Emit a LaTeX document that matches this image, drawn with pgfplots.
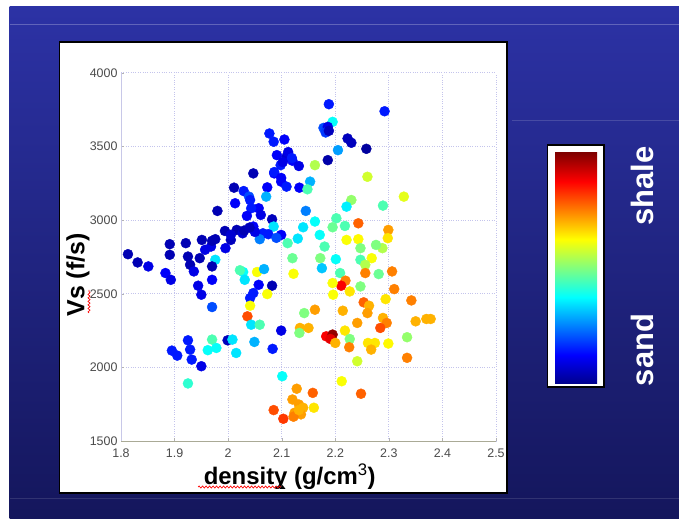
\documentclass[border=0pt]{standalone}
\usepackage{pgfplots}
\pgfplotsset{compat=1.18}
\usepackage{fontspec}
\setmainfont{Liberation Sans}
\usetikzlibrary{decorations.pathmorphing}

\definecolor{bgtop}{RGB}{44,50,165}
\definecolor{bgmid}{RGB}{34,38,140}
\definecolor{bgbot}{RGB}{20,22,92}
\definecolor{gridc}{RGB}{196,196,236}
\definecolor{tickc}{RGB}{75,75,75}
\definecolor{xaxc}{RGB}{170,170,150}
\definecolor{yaxc}{RGB}{200,200,232}

\pgfdeclareverticalshading{jetbar}{100bp}{rgb(0bp)=(0,0,0.55); rgb(25bp)=(0,0,0.55); rgb(31.25bp)=(0,0,1); rgb(43.75bp)=(0,1,1); rgb(56.25bp)=(1,1,0); rgb(68.75bp)=(1,0,0); rgb(75bp)=(0.5,0,0); rgb(100bp)=(0.5,0,0)}

\pgfplotstableread{
d V c
2.188 3788 0.15
2.292 3740 0.15
2.195 3668 0.38
2.178 3627 0.20
2.186 3634 0.10
2.182 3596 0.18
2.188 3607 0.06
2.077 3589 0.15
2.085 3533 0.15
2.105 3548 0.12
2.223 3555 0.06
2.230 3526 0.06
2.258 3485 0.03
2.205 3476 0.28
2.091 3442 0.12
2.109 3431 0.08
2.120 3404 0.12
2.132 3368 0.10
2.186 3408 0.04
2.162 3374 0.55
2.098 3374 0.15
2.047 3318 0.05
2.086 3318 0.12
2.099 3262 0.12
2.109 3228 0.15
2.153 3262 0.30
2.260 3295 0.58
2.133 3221 0.12
2.148 3210 0.45
2.073 3223 0.12
2.011 3221 0.05
2.029 3198 0.15
2.039 3160 0.20
2.041 3137 0.15
2.328 3160 0.60
2.071 3160 0.30
2.230 3137 0.52
2.221 3092 0.36
2.289 3099 0.45
2.013 3115 0.12
1.980 3063 0.05
2.057 3081 0.12
2.043 3081 0.15
2.145 3063 0.25
2.035 3029 0.12
2.061 3036 0.10
2.082 3006 0.06
2.202 3013 0.45
2.162 2991 0.38
2.243 2979 0.78
2.218 2961 0.45
2.195 2952 0.48
2.140 2952 0.35
2.085 2957 0.35
1.994 2927 0.05
2.016 2934 0.05
2.027 2911 0.08
2.047 2957 0.12
2.065 2911 0.15
2.299 2934 0.72
2.099 2900 0.12
2.171 2900 0.38
2.298 2878 0.65
1.976 2871 0.05
2.005 2866 0.06
2.059 2871 0.25
2.130 2875 0.35
2.221 2866 0.62
2.243 2871 0.63
2.111 2844 0.45
1.951 2866 0.05
1.921 2844 0.05
1.891 2837 0.05
1.968 2821 0.10
1.995 2810 0.10
2.180 2821 0.45
2.288 2810 0.55
2.247 2810 0.50
2.276 2832 0.50
1.957 2799 0.10
1.813 2769 0.05
1.891 2765 0.05
1.925 2753 0.05
1.947 2742 0.05
1.976 2731 0.35
2.120 2742 0.48
2.172 2742 0.50
2.201 2735 0.38
2.268 2742 0.62
1.831 2713 0.05
1.851 2686 0.10
1.929 2697 0.05
1.970 2686 0.05
2.247 2731 0.45
2.256 2697 0.55
2.175 2674 0.32
2.028 2648 0.38
2.022 2660 0.45
2.054 2648 0.62
2.067 2668 0.30
1.936 2652 0.10
1.883 2641 0.12
2.209 2641 0.45
2.281 2634 0.48
2.122 2636 0.62
2.256 2641 0.75
2.306 2652 0.75
1.893 2595 0.10
1.970 2595 0.12
2.031 2595 0.35
2.219 2589 0.75
2.211 2555 0.88
2.057 2561 0.12
2.082 2555 0.05
1.944 2555 0.10
2.195 2573 0.62
2.247 2550 0.50
2.310 2532 0.75
1.950 2494 0.10
2.047 2505 0.15
2.073 2498 0.62
2.196 2494 0.62
2.227 2516 0.65
2.041 2471 0.15
2.253 2442 0.78
2.294 2464 0.65
2.342 2455 0.75
2.263 2419 0.70
2.041 2419 0.62
1.970 2410 0.20
2.260 2369 0.72
2.162 2392 0.72
2.214 2385 0.70
2.142 2369 0.50
2.036 2347 0.80
2.289 2336 0.70
2.370 2329 0.70
2.378 2329 0.70
2.350 2313 0.70
2.241 2302 0.72
2.043 2290 0.35
2.059 2290 0.45
2.296 2302 0.75
2.284 2268 0.80
2.134 2268 0.70
2.150 2268 0.70
2.099 2250 0.10
2.218 2250 0.65
2.133 2234 0.50
2.183 2211 0.88
2.195 2223 0.98
2.191 2193 0.90
2.227 2193 0.50
2.200 2166 0.70
2.334 2205 0.52
1.970 2189 0.45
1.999 2184 0.06
2.008 2189 0.35
1.925 2184 0.15
2.049 2173 0.30
2.083 2126 0.15
2.261 2166 0.65
2.274 2166 0.65
2.299 2162 0.63
2.226 2137 0.75
2.267 2121 0.70
1.895 2114 0.15
1.962 2117 0.38
1.978 2132 0.38
2.015 2098 0.35
1.929 2121 0.15
1.905 2080 0.15
1.932 2053 0.15
2.241 2042 0.58
2.334 2065 0.75
1.950 2008 0.10
2.101 1940 0.38
1.925 1891 0.42
2.212 1906 0.62
2.128 1855 0.72
2.158 1827 0.78
2.248 1821 0.78
2.120 1782 0.72
2.132 1748 0.72
2.140 1726 0.70
2.124 1692 0.72
2.136 1681 0.72
2.122 1665 0.75
2.132 1710 0.70
2.160 1726 0.65
2.085 1710 0.80
2.103 1651 0.82
1.970 2860 0.05
2.030 2930 0.05
2.050 2920 0.10
2.075 2905 0.15
2.090 2880 0.20
2.005 2900 0.08
2.040 2950 0.06
2.112 3463 0.10
2.119 3422 0.15
2.102 3395 0.10
2.086 3327 0.15
2.099 3287 0.12
}\pts

\begin{document}
\begin{tikzpicture}
\useasboundingbox (0bp,0bp) rectangle (679bp,519bp);
\fill[white] (0bp,0bp) rectangle (679bp,519bp);
\shade[top color=bgtop, middle color=bgmid, bottom color=bgbot] (9.5bp,0bp) rectangle (679bp,512bp);
\draw[white, opacity=0.25, line width=1bp] (9.5bp,494bp) -- (679bp,494bp);
\draw[white, opacity=0.15, line width=1bp] (512bp,398bp) -- (679bp,398bp);
\draw[white, opacity=0.12, line width=1bp] (9.5bp,20bp) -- (679bp,20bp);
% white panel
\draw[black, line width=1.2bp, fill=white] (59.5bp,26bp) rectangle (507bp,477bp);
% colorbar
\draw[black, line width=1.5bp, fill=white] (547.5bp,132bp) rectangle (604bp,374bp);
\shade[shading=jetbar] (555bp,135bp) rectangle (597bp,366.3bp);
\node[rotate=90, text=white, font=\fontsize{31}{31}\selectfont\bfseries] at (642bp,333bp) {shale};
\node[rotate=90, text=white, font=\fontsize{31}{31}\selectfont\bfseries] at (642bp,169bp) {sand};

\begin{axis}[
  at={(121bp,78bp)}, anchor=south west,
  width=375bp, height=368bp, scale only axis,
  xmin=1.8, xmax=2.5, ymin=1500, ymax=4000,
  xtick={1.8,1.9,2,2.1,2.2,2.3,2.4,2.5},
  ytick={1500,2000,2500,3000,3500,4000},
  grid=major,
  major grid style={dotted, gridc, line width=1bp},
  axis x line*=bottom, axis y line*=left,
  x axis line style={-, xaxc, line width=1bp},
  y axis line style={-, yaxc, line width=1bp},
  tick align=inside, major tick length=3bp,
  tick style={gray!60},
  /pgf/number format/assume math mode=true,
  /pgf/number format/1000 sep={},
  ticklabel style={font=\fontsize{12.5}{12.5}\selectfont, text=tickc},
  xticklabel style={yshift=-4bp},
  xlabel={density (g/cm\textsuperscript{\mdseries 3})},
  ylabel={Vs (f/s)},
  xlabel style={at={(axis description cs:0.45,-0.098)}, anchor=center, font=\fontsize{24}{24}\selectfont\bfseries},
  ylabel style={at={(axis description cs:-0.115,0.451)}, anchor=center, font=\fontsize{25}{25}\selectfont\bfseries},
  colormap/jet, point meta min=0, point meta max=1,
  clip=false,
]
\addplot[scatter, only marks, mark=*, mark size=5bp,
  scatter/use mapped color={draw=mapped color, fill=mapped color},
  point meta=explicit] table[x=d, y=V, meta=c] {\pts};
\end{axis}

% spell-check squiggles
\draw[red, line width=0.7bp, decorate, decoration={snake, amplitude=1bp, segment length=3.5bp}] (198bp,32bp) -- (281bp,32bp);
\fill[black] (279.5bp,30bp) -- (285.5bp,30bp) -- (282.5bp,34bp) -- cycle;
\draw[red, line width=0.7bp, decorate, decoration={snake, amplitude=1bp, segment length=3.5bp}] (89bp,206bp) -- (89bp,229bp);
\end{tikzpicture}
\end{document}
